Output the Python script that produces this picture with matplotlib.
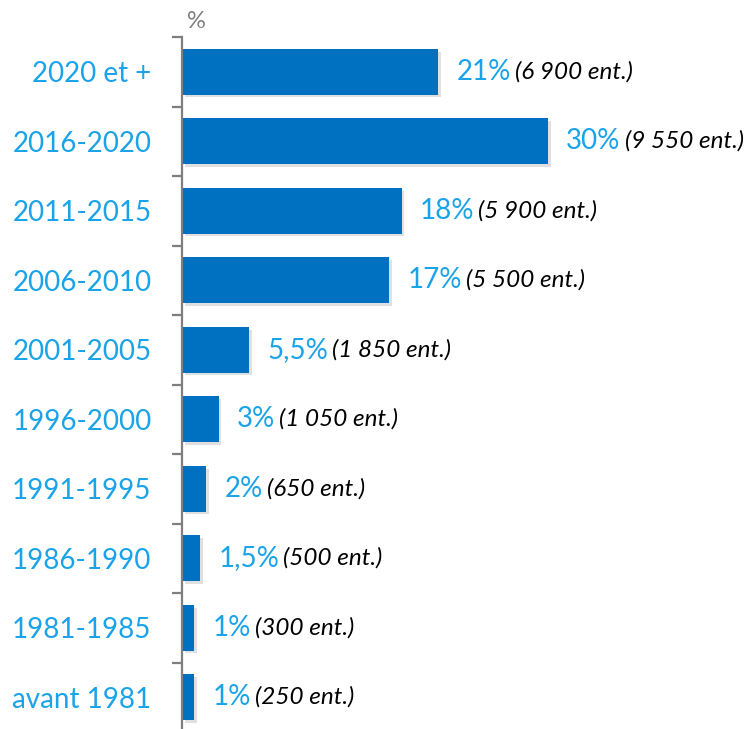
import matplotlib
matplotlib.use("Agg")
import matplotlib.pyplot as plt
import matplotlib.patheffects as pe
import numpy as np

categories = ["2020 et +", "2016-2020", "2011-2015", "2006-2010", "2001-2005",
              "1996-2000", "1991-1995", "1986-1990", "1981-1985", "avant 1981"]
percent = [21, 30, 18, 17, 5.5, 3, 2, 1.5, 1, 1]
companies = [6900, 9550, 5900, 5500, 1850, 1050, 650, 500, 300, 250]

BAR = "#0070C0"
TXT = "#1AA3E8"
GREY = "#7F7F7F"
FONT = "Lato"

plt.rcParams['font.family'] = [FONT, 'DejaVu Sans']

W, H = 753, 729
fig = plt.figure(figsize=(W / 100, H / 100), dpi=100)
left_px, top_px, bottom_px = 182, 37, 732
ax = fig.add_axes([left_px / W, (H - bottom_px) / H, 1 - left_px / W,
                   (bottom_px - top_px) / H])

n = len(categories)
y = np.arange(n)
ax.barh(y, percent, height=0.66, color=BAR,
        path_effects=[pe.SimplePatchShadow(offset=(2, -2), shadow_rgbFace="#999999", alpha=0.3), pe.Normal()])
ax.set_ylim(n - 0.5, -0.5)
ax.set_xlim(0, 571 / 12.2)


def fmt_pct(v):
    s = ("%g" % v).replace(".", ",")
    return s + "%"


def fmt_n(v):
    return "({:,} ent.)".format(v).replace(",", " ")


for yi, v, c in zip(y, percent, companies):
    t = ax.annotate(fmt_pct(v), xy=(v, yi), xytext=(13, 0), textcoords="offset points",
                    va="center", ha="left", color=TXT, fontsize=20)
    ax.annotate(fmt_n(c), xy=(1, 0.5), xycoords=t, xytext=(3, 0), textcoords="offset points",
                va="center", ha="left", color="black", fontsize=17.5, style="italic")

for s in ["top", "right", "bottom"]:
    ax.spines[s].set_visible(False)
ax.spines["left"].set_color(GREY)
ax.spines["left"].set_linewidth(1.6)
ax.set_xticks([])
ax.set_yticks(y)
ax.set_yticklabels(categories, color=TXT, fontsize=20)
ax.tick_params(axis="y", which="major", length=0, pad=22)
ax.set_yticks(np.arange(n + 1) - 0.5, minor=True)
ax.tick_params(axis="y", which="minor", length=7.5, width=1.6, color=GREY)

fig.text(196 / W, 1 - 22 / H, "%", color=GREY, fontsize=17, ha="center", va="center")

fig.savefig("out.png", dpi=100)
